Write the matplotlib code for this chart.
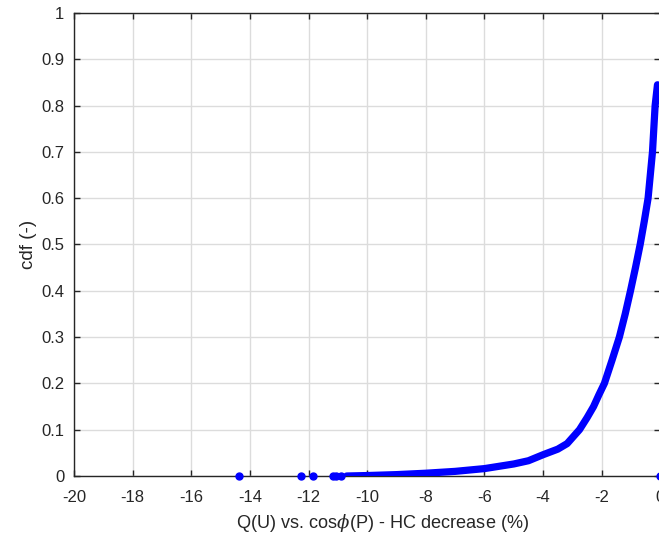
import matplotlib
matplotlib.use("Agg")
import matplotlib.pyplot as plt
from matplotlib.ticker import MultipleLocator

# Main CDF curve (x = HC decrease %, y = cdf)
curve_x = [-10.7, -10.0, -9.0, -8.0, -7.0, -6.0, -5.0, -4.5, -4.0, -3.5, -3.18,
           -2.76, -2.5, -2.28, -2.1, -1.91, -1.65, -1.40, -1.20, -1.02, -0.85,
           -0.69, -0.55, -0.42, -0.27, -0.18, -0.10]
curve_y = [0.0, 0.001, 0.003, 0.006, 0.010, 0.016, 0.026, 0.033, 0.046, 0.058, 0.07,
           0.10, 0.126, 0.15, 0.175, 0.20, 0.25, 0.30, 0.35, 0.40, 0.45,
           0.50, 0.55, 0.60, 0.70, 0.80, 0.845]

# Isolated tail points
tail_x = [-14.38, -12.26, -11.86, -11.18, -11.05, -10.9, 0.0]
tail_y = [0.0, 0.0, 0.0, 0.0, 0.0, 0.0, 0.0]

xlabel = r'Q(U) vs. cos$\phi$(P) - HC decrease (%)'
ylabel = 'cdf (-)'

plt.rcParams['font.family'] = ['Liberation Sans', 'DejaVu Sans']
plt.rcParams['mathtext.fontset'] = 'custom'
plt.rcParams['mathtext.it'] = 'DejaVu Serif:italic'

txt = '#262626'
fig = plt.figure(figsize=(6.59, 5.35), dpi=100)
ax = fig.add_axes([74 / 659, 59 / 535, (660.4 - 74) / 659, (476 - 13) / 535])

ax.plot(curve_x, curve_y, color='#0000ff', lw=5.2, solid_capstyle='round',
        solid_joinstyle='round', zorder=3)
ax.plot(tail_x, tail_y, linestyle='none', marker='o', ms=5.0, color='#0000ff',
        mec='#0000ff', zorder=3, clip_on=False)

ax.set_xlim(-20, 0)
ax.set_ylim(0, 1)
ax.xaxis.set_major_locator(MultipleLocator(2))
ax.yaxis.set_major_locator(MultipleLocator(0.1))
ax.set_xticklabels([f'{v:g}' for v in ax.get_xticks()])
ax.set_yticklabels([f'{v:g}' for v in [round(t, 1) for t in ax.get_yticks()]])

ax.grid(True, color='#dcdcdc', lw=1.0, zorder=0)
ax.set_axisbelow(True)
for s in ax.spines.values():
    s.set_color(txt)
    s.set_linewidth(1.0)
ax.tick_params(direction='in', length=4, width=1, colors=txt, labelcolor=txt,
               labelsize=12, top=True, right=True)
ax.tick_params(axis='x', pad=9.8)
ax.tick_params(axis='y', pad=7)

ax.set_xlabel(xlabel, fontsize=13.1, color=txt)
ax.xaxis.set_label_coords(0.526, -0.078)
ax.set_ylabel(ylabel, fontsize=13.5, color=txt, labelpad=3)

fig.savefig('out.png', dpi=100)
